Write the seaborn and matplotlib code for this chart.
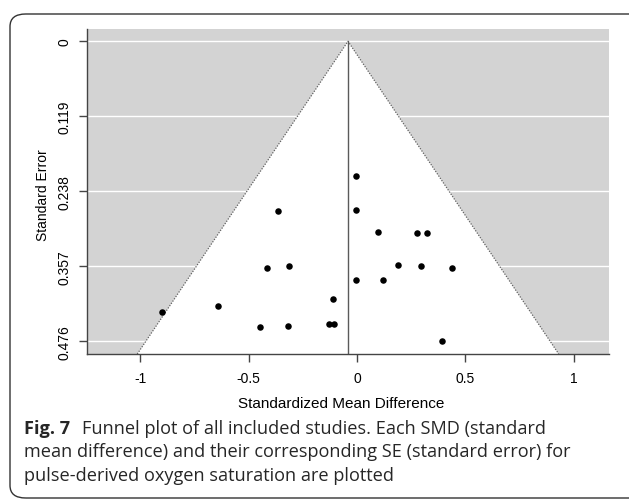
import numpy as np
import pandas as pd
import matplotlib
matplotlib.use("Agg")
import matplotlib.pyplot as plt
import seaborn as sns
from matplotlib.patches import FancyBboxPatch, Polygon

# ---- data ----
smd = [-0.003, -0.366, -0.003, 0.097, 0.277, 0.322, -0.414, -0.312, 0.189, 0.295,
       0.437, -0.003, 0.121, -0.112, -0.643, -0.901, -0.449, -0.318, -0.131, -0.108, 0.392]
se = [0.214, 0.270, 0.268, 0.303, 0.304, 0.304, 0.359, 0.357, 0.355, 0.357,
      0.359, 0.379, 0.379, 0.409, 0.420, 0.430, 0.454, 0.451, 0.449, 0.449, 0.476]
pooled = -0.0415
y_ticks = [0, 0.119, 0.238, 0.357, 0.476]
y_tick_labels = ["0", "0.119", "0.238", "0.357", "0.476"]
x_ticks = [-1, -0.5, 0, 0.5, 1]
x_tick_labels = ["-1", "-0.5", "0", "0.5", "1"]

df = pd.DataFrame({"smd": smd, "se": se})

sns.set_style("white")
plt.rcParams["font.family"] = ["Liberation Sans", "DejaVu Sans"]

W, H = 629, 502
fig = plt.figure(figsize=(W / 100, H / 100), dpi=100)
ax = fig.add_axes([87 / W, 1 - 355 / H, (609 - 87) / W, (355 - 30) / H])

ylo, yhi = -0.0195, 0.4962
ax.set_xlim(-1.246, 1.163)
ax.set_ylim(yhi, ylo)
ax.set_facecolor("#d3d3d3")

# white gridlines on grey background
for t in y_ticks:
    ax.axhline(t, color="white", lw=1.0, zorder=0.5)

# funnel region
z = 1.96
poly = Polygon([[pooled - z * yhi, yhi], [pooled, 0], [pooled + z * yhi, yhi]],
               closed=True, facecolor="white", edgecolor="none", zorder=1)
ax.add_patch(poly)
ax.plot([pooled - z * yhi, pooled, pooled + z * yhi], [yhi, 0, yhi],
        color="#606060", lw=0.9, ls=(0, (1, 1.2)), zorder=2)
ax.plot([pooled, pooled], [0, yhi], color="#5a5a5a", lw=1.0, zorder=2)

sns.scatterplot(data=df, x="smd", y="se", ax=ax, color="black", s=22,
                edgecolor="black", linewidth=0, zorder=3, legend=False)

ax.set_xticks(x_ticks)
ax.set_xticklabels(x_tick_labels)
ax.set_yticks(y_ticks)
ax.set_yticklabels(y_tick_labels, rotation=90, va="center")
ax.tick_params(axis="both", direction="out", length=6, width=1, color="#444444",
               labelsize=10, labelcolor="black", left=True, bottom=True)
ax.tick_params(axis="x", pad=6.5)
ax.tick_params(axis="y", pad=5)
ax.set_xlabel("")
ax.set_ylabel("")
for s in ["top", "right"]:
    ax.spines[s].set_visible(False)
for s in ["left", "bottom"]:
    ax.spines[s].set_color("#444444")
    ax.spines[s].set_linewidth(1.0)

fig.text(341 / W, 1 - 404 / H, "Standardized Mean Difference", ha="center", va="center",
         fontsize=11, color="black")
fig.text(43 / W, 1 - 195 / H, "Standard Error", ha="center", va="center",
         rotation=90, fontsize=10, color="black")

# caption
cap_font = ["Open Sans", "DejaVu Sans"]
cap_size = 13.1
t1 = fig.text(24 / W, 1 - 434 / H, "Fig. 7", ha="left", va="baseline", fontsize=cap_size,
              fontweight="bold", family=cap_font)
fig.canvas.draw()
bb = t1.get_window_extent()
fig.text((bb.x1 + 12) / W, 1 - 434 / H,
         "Funnel plot of all included studies. Each SMD (standard",
         ha="left", va="baseline", fontsize=cap_size, family=cap_font)
fig.text(24 / W, 1 - 457.5 / H,
         "mean difference) and their corresponding SE (standard error) for",
         ha="left", va="baseline", fontsize=cap_size, family=cap_font)
fig.text(24 / W, 1 - 481 / H, "pulse-derived oxygen saturation are plotted",
         ha="left", va="baseline", fontsize=cap_size, family=cap_font)

# rounded frame
frame = FancyBboxPatch((10 / W, 1 - 499 / H), (660 - 10) / W, (499 - 15) / H,
                       boxstyle="round,pad=0,rounding_size=0.025",
                       transform=fig.transFigure, facecolor="none",
                       edgecolor="#333333", lw=1.0, clip_on=False)
fig.patches.append(frame)

fig.savefig("out.png", dpi=100)
